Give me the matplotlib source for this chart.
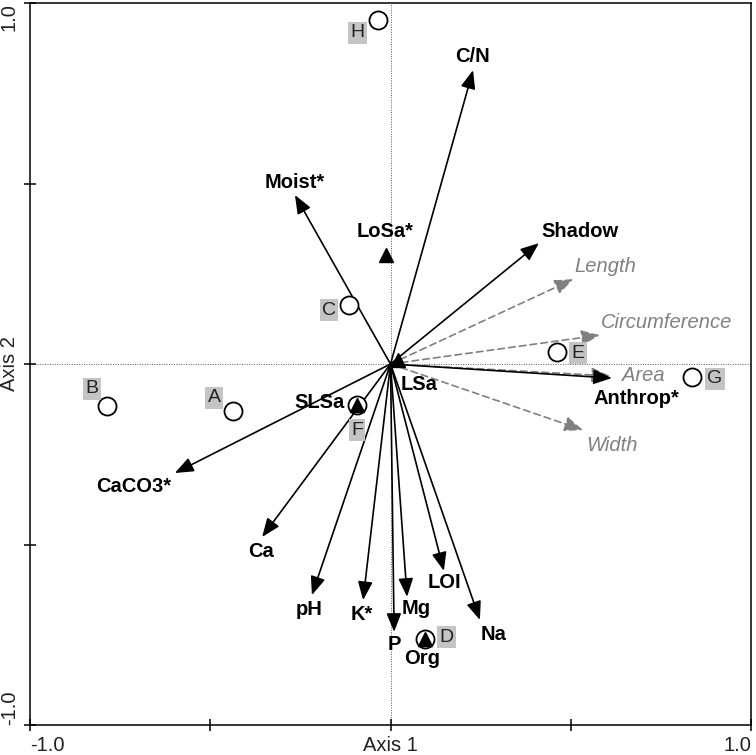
import matplotlib.pyplot as plt

plt.rcParams['font.family'] = ['Liberation Sans', 'DejaVu Sans']

# environmental variables (solid black arrows)
env_names = ['C/N', 'Moist*', 'Shadow', 'Anthrop*', 'CaCO3*', 'Ca', 'pH',
             'K*', 'P', 'Mg', 'LOI', 'Na']
env_x = [0.229, -0.265, 0.412, 0.614, -0.598, -0.356, -0.218,
         -0.076, 0.010, 0.046, 0.148, 0.248]
env_y = [0.814, 0.468, 0.335, -0.039, -0.302, -0.479, -0.640,
         -0.654, -0.742, -0.645, -0.573, -0.709]

# supplementary variables (grey dashed arrows)
sup_names = ['Length', 'Circumference', 'Area', 'Width']
sup_x = [0.507, 0.581, 0.609, 0.534]
sup_y = [0.235, 0.080, -0.033, -0.183]

# nominal variable centroids (triangles)
cen_names = ['LoSa*', 'LSa', 'SLSa', 'Org']
cen_x = [-0.012, 0.021, -0.093, 0.096]
cen_y = [0.302, 0.011, -0.114, -0.762]

# samples (open circles)
site_names = ['H', 'C', 'E', 'G', 'B', 'A', 'F', 'D']
site_x = [-0.035, -0.115, 0.462, 0.836, -0.786, -0.437, -0.093, 0.096]
site_y = [0.953, 0.163, 0.033, -0.036, -0.116, -0.130, -0.114, -0.762]

# label offsets in pixels (dx, dy) from the point / arrow tip
env_off = {'C/N': (-1, 14), 'Moist*': (0, 13), 'Shadow': (41, 12),
           'Anthrop*': (25, -20), 'CaCO3*': (-41, -13), 'Ca': (-1, -15),
           'pH': (-3, -14), 'K*': (-1, -14), 'P': (0, -13), 'Mg': (9, -12),
           'LOI': (1, -12), 'Na': (14, -15)}
sup_off = {'Length': (32, 13), 'Circumference': (67, 13), 'Area': (33, 0),
           'Width': (29, -15)}
cen_off = {'LoSa*': (-1, 23), 'LSa': (21, -24), 'SLSa': (-37, 3),
           'Org': (-3, -19)}
site_off = {'H': (-20, -13), 'C': (-20, -5), 'E': (21, -1), 'G': (23, -2),
            'B': (-15, 17), 'A': (-19, 13), 'F': (0, -25), 'D': (21, 2)}

W, H = 756, 755
fig = plt.figure(figsize=(W / 100, H / 100), dpi=100)
ax = fig.add_axes([30 / W, 30 / H, 721 / W, 722 / H])
ax.set_xlim(-1, 1)
ax.set_ylim(-1, 1)

ax.axhline(0, color='#555555', lw=0.7, ls=(0, (1, 1.5)), zorder=0)
ax.axvline(0, color='#555555', lw=0.7, ls=(0, (1, 1.5)), zorder=0)

astyle = '-|>,head_length=0.75,head_width=0.3'


def arrow(x, y, color, ls):
    ax.annotate('', xy=(x, y), xytext=(0, 0),
                arrowprops=dict(arrowstyle=astyle, mutation_scale=15,
                                color=color, lw=1.2, ls=ls,
                                shrinkA=0, shrinkB=0), zorder=2)


def label(x, y, txt, off, **kw):
    ax.annotate(txt, xy=(x, y), xytext=(off[0] * 0.72, off[1] * 0.72),
                textcoords='offset points', ha='center', va='center',
                fontsize=14.5, zorder=5, **kw)


for n, x, y in zip(sup_names, sup_x, sup_y):
    arrow(x, y, '#808080', (0, (4, 2.5)))
    label(x, y, n, sup_off[n], color='#808080', style='italic')

for n, x, y in zip(env_names, env_x, env_y):
    arrow(x, y, 'black', '-')
    label(x, y, n, env_off[n], color='black', weight='bold')

ax.plot(site_x, site_y, 'o', ms=13, mfc='white', mec='black', mew=1.3,
        ls='none', zorder=3)
for n, x, y in zip(site_names, site_x, site_y):
    ax.annotate(n, xy=(x, y), xytext=(site_off[n][0] * 0.72, site_off[n][1] * 0.72),
                textcoords='offset points', ha='center', va='center',
                fontsize=14, color='#222222', zorder=5,
                bbox=dict(boxstyle='square,pad=0.12', fc='#c4c4c4', ec='none'))

ax.plot(cen_x, cen_y, '^', ms=9.5, color='black', ls='none', zorder=4)
for n, x, y in zip(cen_names, cen_x, cen_y):
    label(x, y, n, cen_off[n], color='black', weight='bold')

for s in ax.spines.values():
    s.set_linewidth(1.1)

ax.set_xticks([-1, -0.5, 0, 0.5, 1])
ax.set_xticklabels(['-1.0', '', 'Axis 1', '', '1.0'])
ax.set_yticks([-1, -0.5, 0, 0.5, 1])
ax.set_yticklabels(['-1.0', '', 'Axis 2', '', '1.0'], rotation=90, va='center')
ax.tick_params(direction='inout', length=8, width=1.1, labelsize=14.5,
               labelcolor='#222222', pad=4)
xl = ax.get_xticklabels()
xl[0].set_ha('left')
xl[-1].set_ha('right')
yl = ax.get_yticklabels()
yl[0].set_va('bottom')
yl[-1].set_va('top')

fig.savefig('out.png', dpi=100)
